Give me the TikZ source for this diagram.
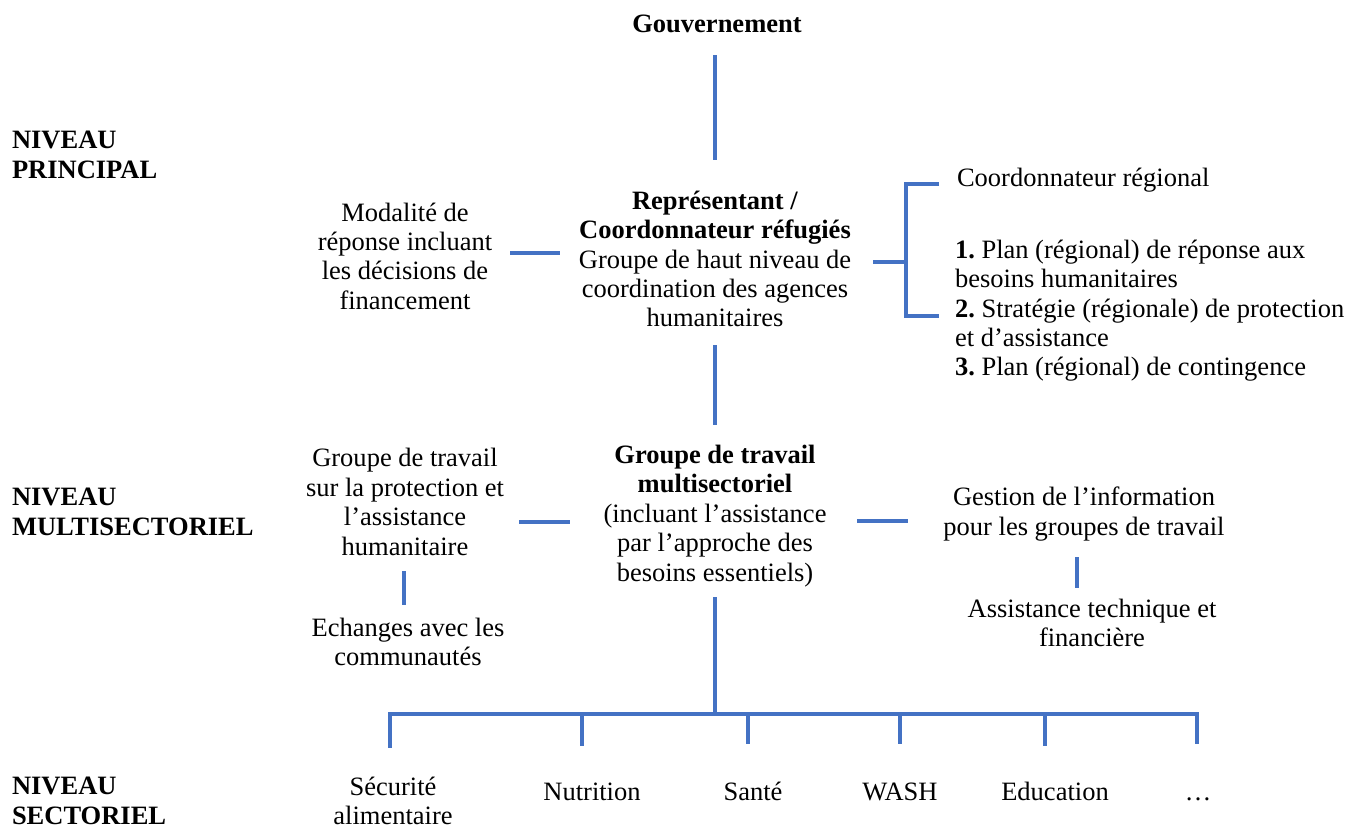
\documentclass[tikz,border=0pt]{standalone}
\usepackage{fontspec}
\setmainfont{Liberation Serif}
\frenchspacing
\definecolor{lineblue}{HTML}{4472C4}
\begin{document}
\begin{tikzpicture}[x=1bp,y=-1bp,
  every node/.style={inner sep=0pt, outer sep=0pt, font=\fontsize{26.6}{29.5}\selectfont},
  lbl/.style={align=center},
  lvl/.style={align=left, anchor=west, font=\fontsize{26.6}{30}\selectfont\bfseries},
  conn/.style={draw=lineblue, line width=3.2bp},
  bus/.style={draw=lineblue, line width=3.8bp},
]
\useasboundingbox (0,0) rectangle (1365,830);

% level labels
\node[lvl] (lvlA) at (12,155) {NIVEAU\\PRINCIPAL};
\node[lvl] (lvlB) at (12,512) {NIVEAU\\MULTISECTORIEL};
\node[lvl] (lvlC) at (12,801) {NIVEAU\\SECTORIEL};

% main level
\node[anchor=base, font=\fontsize{26.6}{29.5}\selectfont\bfseries] (gouv) at (717,32) {Gouvernement};
\node[lbl] (rep) at (715,259) {\textbf{Représentant /}\\\textbf{Coordonnateur réfugiés}\\Groupe de haut niveau de\\coordination des agences\\humanitaires};
\node[lbl] (mod) at (405,256) {Modalité de\\réponse incluant\\les décisions de\\financement};
\node[anchor=base west] (coord) at (957,186) {Coordonnateur régional};
\node[anchor=north west, align=left] (plans) at (955,240) {\textbf{1.} Plan (régional) de réponse aux\\besoins humanitaires\\\textbf{2.} Stratégie (régionale) de protection\\et d’assistance\\\textbf{3.} Plan (régional) de contingence};

% multisector level
\node[lbl] (gtm) at (715,516) {\textbf{Groupe de travail}\\\textbf{multisectoriel}\\(incluant l’assistance\\par l’approche des\\besoins essentiels)};
\node[lbl] (gtp) at (405,502) {Groupe de travail\\sur la protection et\\l’assistance\\humanitaire};
\node[lbl] (ech) at (408,642) {Echanges avec les\\communautés};
\node[lbl] (gest) at (1084,514) {Gestion de l’information\\pour les groupes de travail};
\node[lbl] (asst) at (1092,623) {Assistance technique et\\financière};

% sector level
\node[lbl] (s1) at (393,801) {Sécurité\\alimentaire};
\node[anchor=base] (s2) at (592,800) {Nutrition};
\node[anchor=base] (s3) at (753,800) {Santé};
\node[anchor=base] (s4) at (900,800) {WASH};
\node[anchor=base] (s5) at (1055,800) {Education};
\node[anchor=base] (s6) at (1198,800) {…};

% connector end points
\coordinate (g1) at (715,55);   \coordinate (g2) at (715,160);
\coordinate (m1) at (510,253);  \coordinate (m2) at (560,253);
\coordinate (r1) at (873,262);  \coordinate (r2) at (906,262);
\coordinate (bt) at (906,184);  \coordinate (bb) at (906,316);
\coordinate (bt2) at (939,184); \coordinate (bb2) at (939,316);
\coordinate (d1) at (715,345);  \coordinate (d2) at (715,425);
\coordinate (l1) at (519,522);  \coordinate (l2) at (570,522);
\coordinate (k1) at (857,521);  \coordinate (k2) at (908,521);
\coordinate (v1) at (404,571);  \coordinate (v2) at (404,605);
\coordinate (w1) at (1077,557); \coordinate (w2) at (1077,588);
\coordinate (e1) at (715,597);  \coordinate (e2) at (715,714);
\coordinate (busL) at (388,714); \coordinate (busR) at (1199,714);

\draw[conn] (g1) -- (g2);
\draw[conn] (m1) -- (m2);
\draw[conn] (r1) -- (r2);
\draw[conn] (bt2) -- (bt) -- (bb) -- (bb2);
\draw[conn] (d1) -- (d2);
\draw[conn] (l1) -- (l2);
\draw[conn] (k1) -- (k2);
\draw[conn] (v1) -- (v2);
\draw[conn] (w1) -- (w2);
\draw[conn] (e1) -- (e2);
\draw[bus] (busL) -- (busR);
\foreach \x/\b in {390/748, 582/746, 748/744, 900/744, 1045/746, 1197/744}
  \draw[conn] (\x,714) -- (\x,\b);
\end{tikzpicture}
\end{document}
